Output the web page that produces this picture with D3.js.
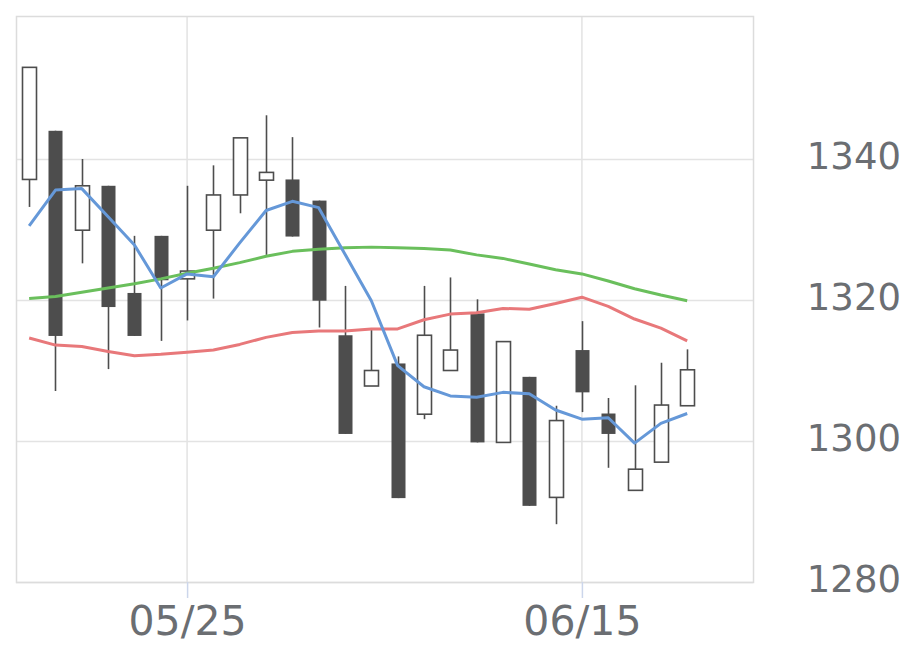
<!DOCTYPE html>
<html>
<head>
<meta charset="utf-8">
<script src="https://cdn.jsdelivr.net/npm/d3@7"></script>
<style>
	body { margin: 0; background: #ffffff; }
	#chart { width: 920px; height: 669px; }
</style>
</head>
<body>
<div id="chart"></div>
<script>
// trading days (one candle each)
var dates = ["05/15", "05/18", "05/19", "05/20", "05/21", "05/22", "05/25", "05/26",
             "05/27", "05/28", "05/29", "06/01", "06/02", "06/03", "06/04", "06/05",
             "06/08", "06/09", "06/10", "06/11", "06/12", "06/15", "06/16", "06/17",
             "06/18", "06/19"];

var openValues  = [1337.1, 1344.0, 1329.9, 1336.2, 1321.0, 1329.1, 1323.0, 1329.9,
                   1334.9, 1337.0, 1337.1, 1334.1, 1315.0, 1307.8, 1311.0, 1303.8,
                   1310.0, 1318.1, 1299.8, 1309.1, 1292.0, 1312.9, 1303.9, 1293.0,
                   1297.0, 1305.0];
var highValues  = [1353.0, 1344.0, 1340.0, 1336.2, 1329.1, 1329.1, 1336.2, 1339.1,
                   1343.0, 1346.2, 1343.1, 1334.1, 1322.0, 1315.9, 1312.0, 1322.0,
                   1323.2, 1320.1, 1314.1, 1309.1, 1305.0, 1317.0, 1306.1, 1307.9,
                   1311.1, 1313.0];
var lowValues   = [1333.2, 1307.1, 1325.2, 1310.2, 1314.9, 1314.2, 1317.1, 1320.2,
                   1332.3, 1326.4, 1329.0, 1316.1, 1301.0, 1307.8, 1291.9, 1303.1,
                   1310.0, 1299.8, 1299.8, 1290.8, 1288.2, 1304.1, 1296.2, 1293.0,
                   1297.0, 1305.0];
var closeValues = [1353.0, 1314.9, 1336.2, 1319.0, 1314.9, 1322.8, 1324.1, 1334.9,
                   1343.0, 1338.1, 1329.0, 1319.9, 1301.0, 1310.0, 1291.9, 1315.0,
                   1312.9, 1299.8, 1314.1, 1290.8, 1302.9, 1306.9, 1301.0, 1296.0,
                   1305.1, 1310.1];

// moving averages
var maShort = [1330.5, 1335.6, 1335.8, 1331.8, 1327.8, 1321.7, 1323.7, 1323.3,
               1328.1, 1332.7, 1334.0, 1333.1, 1326.5, 1319.9, 1310.7, 1307.7,
               1306.4, 1306.2, 1306.9, 1306.7, 1304.4, 1303.1, 1303.3, 1299.7,
               1302.5, 1303.9];
var maMid   = [1320.2, 1320.5, 1321.1, 1321.7, 1322.3, 1323.0, 1323.8, 1324.5,
               1325.3, 1326.2, 1326.9, 1327.2, 1327.4, 1327.5, 1327.4, 1327.3,
               1327.1, 1326.4, 1325.9, 1325.1, 1324.3, 1323.7, 1322.7, 1321.6,
               1320.7, 1319.9];
var maLong  = [1314.6, 1313.6, 1313.4, 1312.7, 1312.1, 1312.3, 1312.6, 1312.9,
               1313.7, 1314.7, 1315.4, 1315.6, 1315.6, 1315.9, 1315.9, 1317.2,
               1318.0, 1318.2, 1318.8, 1318.7, 1319.5, 1320.4, 1319.1, 1317.3,
               1316.0, 1314.2];

var yTicks = [1280, 1300, 1320, 1340];
var xTickLabels = ["05/25", "06/15"];

function CandleChart(options)
{
	var _opts = {
		el: "#chart",
		width: 920,
		height: 669,
		left: 16,      // plot frame
		right: 753,
		top: 16,
		bottom: 582,
		slots: 28,     // candle slots across the frame (last two empty)
		candleWidth: 14,
		upColor: "#ffffff",
		downColor: "#4d4d4d",
		lineColor: "#4d4d4d",
		gridColor: "#e3e3e3",
		frameColor: "#dcdcdc",
		tickColor: "#ccd6eb",
		labelColor: "#6b6e72",
		labelFont: "'DejaVu Sans', sans-serif",
		xLabelSize: "41px",
		yLabelSize: "37px"
	};

	var o = Object.assign({}, _opts, options);

	function init()
	{
		var svg = d3.select(o.el).append("svg")
			.attr("width", o.width)
			.attr("height", o.height);

		var x = d3.scaleLinear()
			.domain([-0.5, o.slots - 0.5])
			.range([o.left, o.right]);

		var y = d3.scaleLinear()
			.domain([1280, 1360])
			.range([o.bottom, o.bottom - 80 * 7.05]);

		drawGrid(svg, x, y);
		drawCandles(svg, x, y);
		drawLines(svg, x, y);
		drawAxes(svg, x, y);
	}

	function drawGrid(svg, x, y)
	{
		// horizontal grid
		svg.append("g").selectAll("line")
			.data(yTicks)
			.join("line")
			.attr("x1", o.left)
			.attr("x2", o.right)
			.attr("y1", function(d) { return Math.round(y(d)) + 0.5; })
			.attr("y2", function(d) { return Math.round(y(d)) + 0.5; })
			.attr("stroke", o.gridColor)
			.attr("stroke-width", 1.5);

		// vertical grid at the labelled dates
		svg.append("g").selectAll("line")
			.data(xTickLabels)
			.join("line")
			.attr("x1", function(d) { return x(dates.indexOf(d)); })
			.attr("x2", function(d) { return x(dates.indexOf(d)); })
			.attr("y1", o.top)
			.attr("y2", o.bottom)
			.attr("stroke", o.gridColor)
			.attr("stroke-width", 1.5);

		// frame
		svg.append("rect")
			.attr("x", o.left + 0.5)
			.attr("y", o.top + 0.5)
			.attr("width", o.right - o.left)
			.attr("height", o.bottom - o.top)
			.attr("fill", "none")
			.attr("stroke", o.frameColor)
			.attr("stroke-width", 1.5);
	}

	function drawCandles(svg, x, y)
	{
		var g = svg.append("g");
		var idx = d3.range(dates.length);

		// wicks
		g.selectAll("line")
			.data(idx)
			.join("line")
			.attr("x1", function(i) { return Math.round(x(i)) + 0.5; })
			.attr("x2", function(i) { return Math.round(x(i)) + 0.5; })
			.attr("y1", function(i) { return y(highValues[i]); })
			.attr("y2", function(i) { return y(lowValues[i]); })
			.attr("stroke", o.lineColor)
			.attr("stroke-width", 1.6);

		// bodies: hollow when the close is above the open
		g.selectAll("rect")
			.data(idx)
			.join("rect")
			.attr("x", function(i) { return Math.round(x(i)) + 0.5 - o.candleWidth / 2; })
			.attr("y", function(i) { return y(Math.max(openValues[i], closeValues[i])); })
			.attr("width", o.candleWidth)
			.attr("height", function(i) {
				return Math.max(1, Math.abs(y(openValues[i]) - y(closeValues[i])));
			})
			.attr("fill", function(i) {
				return closeValues[i] >= openValues[i] ? o.upColor : o.downColor;
			})
			.attr("stroke", function(i) {
				return closeValues[i] >= openValues[i] ? o.lineColor : "none";
			})
			.attr("stroke-width", 1.6);
	}

	function drawLines(svg, x, y)
	{
		var series = [
			{ values: maLong,  color: "#e8787a" },
			{ values: maMid,   color: "#6abf5c" },
			{ values: maShort, color: "#6598d8" }
		];

		var line = d3.line()
			.x(function(d, i) { return x(i); })
			.y(function(d) { return y(d); });

		series.forEach(function(s) {
			svg.append("path")
				.datum(s.values)
				.attr("d", line)
				.attr("fill", "none")
				.attr("stroke", s.color)
				.attr("stroke-width", 3)
				.attr("stroke-linejoin", "round");
		});
	}

	function drawAxes(svg, x, y)
	{
		// x axis: ticks only at the labelled dates
		var xAxis = d3.axisBottom(x)
			.tickValues(xTickLabels.map(function(d) { return dates.indexOf(d); }))
			.tickFormat(function(i) { return dates[i]; })
			.tickSize(16)
			.tickPadding(8);

		var gx = svg.append("g")
			.attr("transform", "translate(0," + o.bottom + ")")
			.call(xAxis);
		gx.select(".domain").remove();
		gx.selectAll(".tick line").attr("stroke", o.tickColor).attr("stroke-width", 1.5);
		gx.selectAll(".tick text")
			.attr("fill", o.labelColor)
			.style("font-family", o.labelFont)
			.style("font-size", o.xLabelSize);

		// y axis on the right, labels only
		var yAxis = d3.axisRight(y)
			.tickValues(yTicks)
			.tickFormat(d3.format("d"))
			.tickSize(0)
			.tickPadding(0);

		var gy = svg.append("g")
			.attr("transform", "translate(901,-2)")
			.call(yAxis);
		gy.select(".domain").remove();
		gy.selectAll(".tick text")
			.attr("text-anchor", "end")
			.attr("fill", o.labelColor)
			.style("font-family", o.labelFont)
			.style("font-size", o.yLabelSize);
	}

	this.init = init;
}

var chart = new CandleChart({});
chart.init();
</script>
</body>
</html>
